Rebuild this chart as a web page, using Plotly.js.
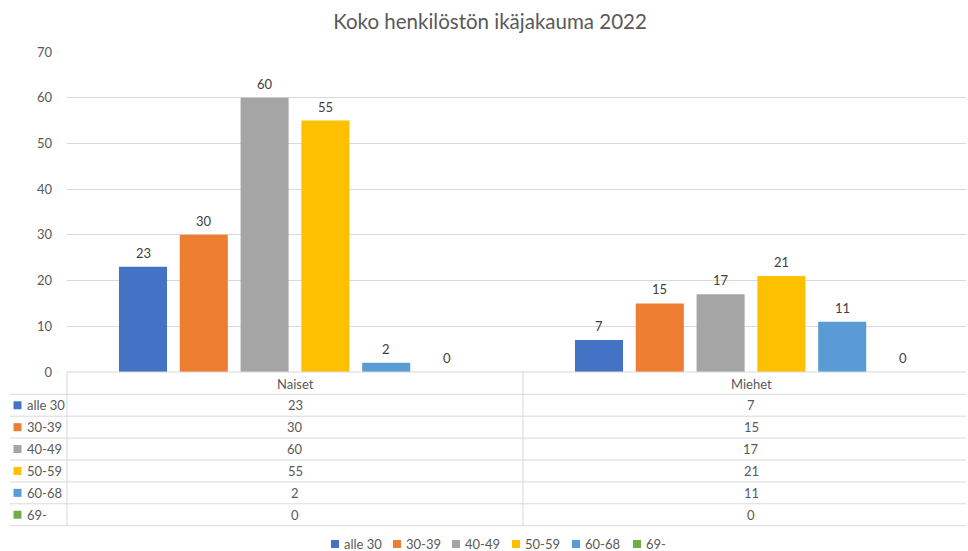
<!DOCTYPE html>
<html><head><meta charset="utf-8">
<script src="https://cdn.plot.ly/plotly-3.0.1.min.js"></script>
<style>body{margin:0;background:#fff}</style></head>
<body><div id="c" style="width:968px;height:551px"></div>
<script>
const categories = ["Naiset", "Miehet"];
const seriesNames = ["alle 30", "30-39", "40-49", "50-59", "60-68", "69-"];
const alle30 = [23, 7];
const s3039 = [30, 15];
const s4049 = [60, 17];
const s5059 = [55, 21];
const s6068 = [2, 11];
const s69 = [0, 0];
const seriesValues = [alle30, s3039, s4049, s5059, s6068, s69];
const colors = ["#4472C4", "#ED7D31", "#A5A5A5", "#FFC000", "#5B9BD5", "#70AD47"];
const yTicks = [0, 10, 20, 30, 40, 50, 60, 70];

const FONT = "Lato, 'Liberation Sans', sans-serif";
const W = 968, H = 551, L = 67, R = 966, T = 52, B = 372;
const CATW = 456, SLOT = CATW * 0.8 / seriesNames.length;
const px = x => (x - L) / (R - L);
const py = y => (B - y) / (B - T);
const gridC = "#d9d9d9";

const traces = seriesNames.map((n, i) => ({
  type: "bar", name: n, x: categories, y: seriesValues[i],
  marker: {color: colors[i]}, hoverinfo: "none"
}));

const shapes = [];
const annotations = [];
const line = (x0, y0, x1, y1) => shapes.push({type: "line", xref: "paper", yref: "paper",
  x0: px(x0), y0: py(y0), x1: px(x1), y1: py(y1), line: {color: gridC, width: 1}});

// data labels
seriesNames.forEach((n, i) => categories.forEach((c, j) => annotations.push({
  xref: "x", yref: "y", x: j, y: seriesValues[i][j], xshift: (i - (seriesNames.length - 1) / 2) * SLOT,
  yshift: 14, xanchor: "center", yanchor: "middle", showarrow: false,
  text: String(seriesValues[i][j]), font: {family: FONT, size: 13, color: "#404040"}})));

// table grid
line(67, 372, 966, 372);
const rowTop = 394.3, rowH = 21.9;
for (let i = 0; i <= seriesNames.length; i++) line(10, rowTop + rowH * i, 966, rowTop + rowH * i);
line(67, 372, 67, rowTop + rowH * seriesNames.length);
line(523, 372, 523, rowTop + rowH * seriesNames.length);

// header
categories.forEach((c, j) => annotations.push({xref: "x", yref: "paper", x: j, y: py(383.5),
  xanchor: "center", yanchor: "middle",
  text: c, showarrow: false, font: {family: FONT, size: 13, color: "#595959"}}));

// rows
seriesNames.forEach((n, i) => {
  const cy = rowTop + rowH * i + rowH / 2;
  shapes.push({type: "rect", xref: "paper", yref: "paper", x0: px(13.5), x1: px(21.5),
    y0: py(cy - 4), y1: py(cy + 4), fillcolor: colors[i], line: {width: 0}});
  annotations.push({xref: "paper", yref: "paper", x: px(25), y: py(cy), xanchor: "left", yanchor: "middle",
    text: n, showarrow: false, font: {family: FONT, size: 13, color: "#595959"}});
  categories.forEach((c, j) => annotations.push({xref: "x", yref: "paper", x: j, y: py(cy),
    xanchor: "center", yanchor: "middle",
    text: String(seriesValues[i][j]), showarrow: false, font: {family: FONT, size: 13, color: "#595959"}}));
});

// legend
const legX = [331, 393, 452, 512, 572, 633];
const legY = 544;
seriesNames.forEach((n, i) => {
  shapes.push({type: "rect", xref: "paper", yref: "paper", x0: px(legX[i]), x1: px(legX[i] + 8),
    y0: py(legY - 4), y1: py(legY + 4), fillcolor: colors[i], line: {width: 0}});
  annotations.push({xref: "paper", yref: "paper", x: px(legX[i] + 10.5), y: py(legY), xanchor: "left", yanchor: "middle",
    text: n, showarrow: false, font: {family: FONT, size: 13, color: "#595959"}});
});

const layout = {
  width: W, height: H, margin: {l: L, r: W - R, t: T, b: H - B},
  paper_bgcolor: "#fff", plot_bgcolor: "#fff",
  title: {text: "Koko henkilöstön ikäjakauma 2022", font: {family: FONT, size: 20.5, color: "#595959"},
    x: 490 / W, xref: "container", y: 1 - 22 / H, yref: "container", xanchor: "center", yanchor: "middle"},
  barmode: "group", bargap: 0.2, bargroupgap: 0.21,
  showlegend: false,
  xaxis: {range: [-0.5, -0.5 + (R - L) / CATW], showticklabels: false, showgrid: false, zeroline: false,
    showline: false, ticks: "", fixedrange: true},
  yaxis: {range: [0, 70], tickvals: yTicks, ticktext: yTicks.map(String), showgrid: true, gridcolor: gridC,
    gridwidth: 1, zeroline: false, showline: false, ticks: "", ticklabelstandoff: 14,
    tickfont: {family: FONT, size: 13, color: "#595959"}, fixedrange: true},
  shapes: shapes, annotations: annotations
};
Plotly.newPlot("c", traces, layout, {displayModeBar: false, staticPlot: true});
</script></body></html>
